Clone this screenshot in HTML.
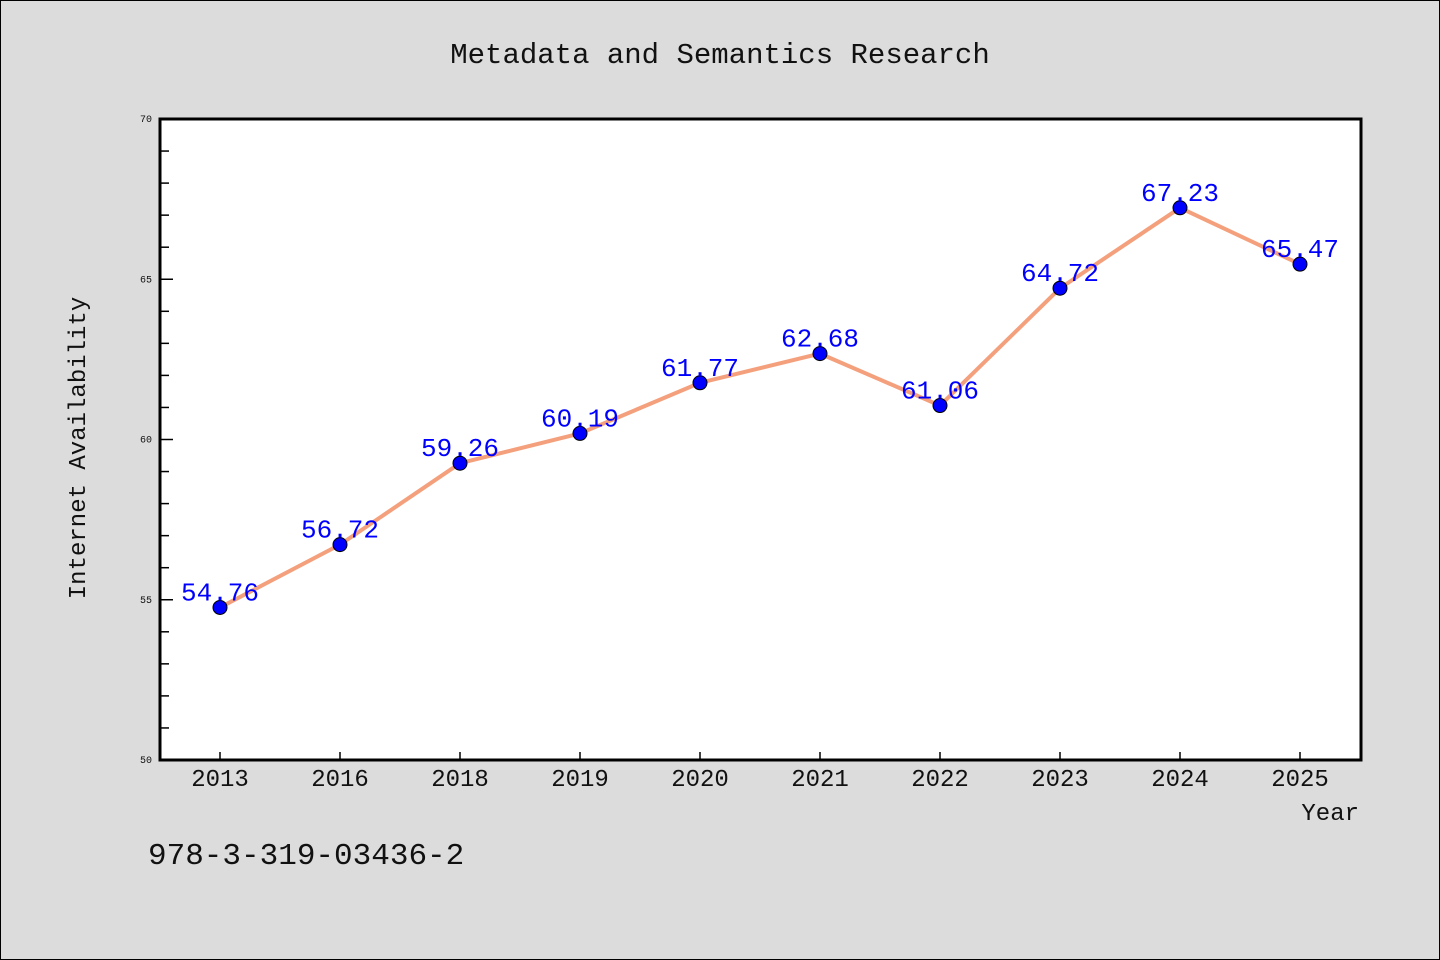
<!DOCTYPE html>
<html><head><meta charset="utf-8"><style>
body{margin:0;background:#dcdcdc;}
svg{display:block;font-family:"WenQuanYi Zen Hei","Liberation Mono",monospace;}
</style></head><body>
<svg id="chart" width="1440" height="960" viewBox="0 0 1440 960">
<rect x="0.5" y="0.5" width="1439" height="959" fill="#dcdcdc" stroke="#000"/>
<text x="720" y="63" text-anchor="middle" font-size="29" fill="#111">Metadata and Semantics Research</text>
<rect x="160" y="119" width="1201" height="641" fill="#fff"/>
<g id="yticks"></g><g id="xticks"></g><g id="series"></g>
<rect x="160" y="119" width="1201" height="641" fill="none" stroke="#000" stroke-width="3"/>
<text transform="translate(85,448) rotate(-90)" text-anchor="middle" font-size="24" fill="#111">Internet Availability</text>
<text x="1359" y="820" text-anchor="end" font-size="24" fill="#111">Year</text>
<text x="148" y="864" font-size="31" fill="#111">978-3-319-03436-2</text>
</svg>
<script>
const categories=["2013","2016","2018","2019","2020","2021","2022","2023","2024","2025"];
const values=[54.76,56.72,59.26,60.19,61.77,62.68,61.06,64.72,67.23,65.47];
const labels=["54.76","56.72","59.26","60.19","61.77","62.68","61.06","64.72","67.23","65.47"];
const yTicks=[50,55,60,65,70];
const NS="http://www.w3.org/2000/svg";
const X0=160,W=1200,Y0=760,H=641,YMIN=50,YMAX=70;
function xs(i){return X0+W/categories.length*(i+0.5);}
function ys(v){return Y0-(v-YMIN)/(YMAX-YMIN)*H;}
function mk(t,a,p){const e=document.createElementNS(NS,t);for(const k in a)e.setAttribute(k,a[k]);p.appendChild(e);return e;}
const yg=document.getElementById('yticks');
for(let v=YMIN;v<=YMAX;v++){
  const major=yTicks.includes(v);
  const l=mk('line',{x1:X0,x2:X0+(major?13:9),y1:ys(v),y2:ys(v),stroke:'#000','stroke-width':1.5},yg);
  
  
}
yTicks.forEach(v=>{
  const t=mk('text',{x:X0-8,y:ys(v)+3,'text-anchor':'end','font-size':10,fill:'#111'},yg);
  t.textContent=v;
  
  
});
const xg=document.getElementById('xticks');
categories.forEach((c,i)=>{
  const l=mk('line',{x1:xs(i),x2:xs(i),y1:Y0,y2:Y0-8,stroke:'#000','stroke-width':1.5},xg);
  
  
  const t=mk('text',{x:xs(i),y:Y0+26,'text-anchor':'middle','font-size':24,fill:'#111'},xg);
  t.textContent=c;
  
  
});
const sg=document.getElementById('series');
const pl=mk('polyline',{points:values.map((v,i)=>xs(i)+','+ys(v)).join(' '),fill:'none',stroke:'#f4a07c','stroke-width':4,'stroke-linejoin':'round'},sg);


values.forEach((v,i)=>{
  const c=mk('circle',{cx:xs(i),cy:ys(v),r:7,fill:'#0000ff',stroke:'#000','stroke-width':1},sg);
  
  
});
values.forEach((v,i)=>{
  const t=mk('text',{x:xs(i),y:ys(v)-7,'text-anchor':'middle','font-size':26,fill:'#0000ff'},sg);
  t.textContent=labels[i];
  
  
});
</script>
</body></html>
